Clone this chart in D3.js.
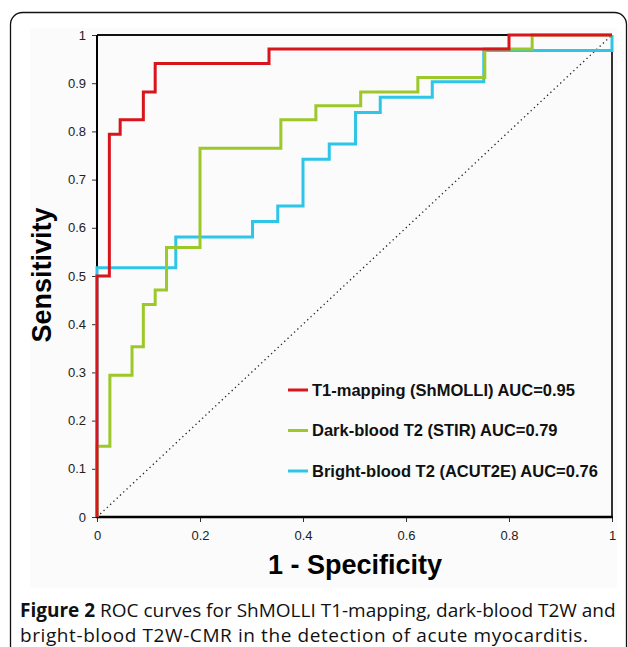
<!DOCTYPE html>
<html>
<head>
<meta charset="utf-8">
<script src="https://cdn.jsdelivr.net/npm/d3@7"></script>
<style>
  body { margin: 0; background: #fff; }
  svg { display: block; }
</style>
</head>
<body>
<script>
// ROC curve points: [1 - specificity, sensitivity]
var t1Mapping = [[0,0],[0,0.5],[0.024,0.5],[0.024,0.794],[0.045,0.794],[0.045,0.824],[0.09,0.824],[0.09,0.882],
  [0.113,0.882],[0.113,0.941],[0.334,0.941],[0.334,0.971],[0.80,0.971],[0.80,1],[1,1]];
var darkBlood = [[0,0],[0,0.147],[0.025,0.147],[0.025,0.294],[0.068,0.294],[0.068,0.353],[0.09,0.353],[0.09,0.441],
  [0.113,0.441],[0.113,0.471],[0.135,0.471],[0.135,0.559],[0.20,0.559],[0.20,0.765],[0.357,0.765],[0.357,0.824],
  [0.425,0.824],[0.425,0.853],[0.512,0.853],[0.512,0.882],[0.623,0.882],[0.623,0.912],[0.753,0.912],[0.753,0.971],
  [0.845,0.971],[0.845,1],[1,1]];
var brightBlood = [[0,0],[0,0.517],[0.153,0.517],[0.153,0.581],[0.302,0.581],[0.302,0.613],[0.351,0.613],[0.351,0.645],
  [0.40,0.645],[0.40,0.742],[0.451,0.742],[0.451,0.774],[0.502,0.774],[0.502,0.839],[0.55,0.839],[0.55,0.871],
  [0.651,0.871],[0.651,0.903],[0.751,0.903],[0.751,0.968],[1,0.968],[1,1]];

var seriesNames = ["T1-mapping (ShMOLLI) AUC=0.95", "Dark-blood T2 (STIR) AUC=0.79", "Bright-blood T2 (ACUT2E) AUC=0.76"];
var seriesColors = ["#d8151d", "#9dc82a", "#2ec6e8"];
var xTicks = [0, 0.2, 0.4, 0.6, 0.8, 1];
var yTicks = [0, 0.1, 0.2, 0.3, 0.4, 0.5, 0.6, 0.7, 0.8, 0.9, 1];

var width = 628, height = 647;
var svg = d3.select("body").append("svg")
    .attr("width", width)
    .attr("height", height);

// outer frame (open at the bottom, cropped)
svg.append("rect")
    .attr("x", 10.5).attr("y", 12.5)
    .attr("width", 616).attr("height", 700)
    .attr("rx", 12).attr("ry", 12)
    .style("fill", "#fff")
    .style("stroke", "#111")
    .style("stroke-width", 1.3);

// light panel behind the chart
svg.append("rect")
    .attr("x", 30).attr("y", 28)
    .attr("width", 587).attr("height", 560)
    .style("fill", "#fafbfa");

var x = d3.scaleLinear().domain([0, 1]).range([97, 612]);
var y = d3.scaleLinear().domain([0, 1]).range([517, 35]);

var fmt = function(d) { return d === 0 || d === 1 ? d3.format("d")(d) : d3.format(".1f")(d); };

// y axis
var yAxis = svg.append("g")
    .attr("transform", "translate(97,0)")
    .call(d3.axisLeft(y).tickValues(yTicks).tickFormat(fmt).tickSize(5).tickPadding(6));
// x axis
var xAxis = svg.append("g")
    .attr("transform", "translate(0,517)")
    .call(d3.axisBottom(x).tickValues(xTicks).tickFormat(fmt).tickSize(5).tickPadding(9));

[yAxis, xAxis].forEach(function(a) {
  a.select(".domain").remove();
  a.selectAll("line").style("stroke", "#333").style("stroke-width", 1);
  a.selectAll("text")
    .style("font-family", "'Liberation Sans', Arial, sans-serif")
    .style("font-size", "13px")
    .style("fill", "#222");
});

// plot frame
svg.append("line").attr("x1", 97).attr("x2", 612).attr("y1", 35).attr("y2", 35)
    .style("stroke", "#111").style("stroke-width", 2);
svg.append("line").attr("x1", 612).attr("x2", 612).attr("y1", 35).attr("y2", 517)
    .style("stroke", "#333").style("stroke-width", 2);
svg.append("line").attr("x1", 97).attr("x2", 97).attr("y1", 35).attr("y2", 518)
    .style("stroke", "#000").style("stroke-width", 2);
svg.append("line").attr("x1", 96).attr("x2", 613).attr("y1", 517).attr("y2", 517)
    .style("stroke", "#000").style("stroke-width", 2.5);

// chance diagonal
svg.append("line")
    .attr("x1", x(0)).attr("y1", y(0)).attr("x2", x(1)).attr("y2", y(1))
    .style("stroke", "#222")
    .style("stroke-width", 1.3)
    .style("stroke-dasharray", "1.3,3.2");

var line = d3.line()
    .x(function(d) { return x(d[0]); })
    .y(function(d) { return y(d[1]); });

var curves = [brightBlood, darkBlood, t1Mapping];
var curveColors = [seriesColors[2], seriesColors[1], seriesColors[0]];

svg.selectAll(".roc")
    .data(curves)
    .enter()
    .append("path")
    .attr("class", "roc")
    .attr("d", line)
    .style("fill", "none")
    .style("stroke", function(d, i) { return curveColors[i]; })
    .style("stroke-width", 3);

// legend
var legend = svg.selectAll(".legend")
    .data(seriesNames)
    .enter()
    .append("g")
    .attr("class", "legend")
    .attr("transform", function(d, i) { return "translate(288," + (390 + i * 40.5) + ")"; });

legend.append("line")
    .attr("x1", 0).attr("x2", 20)
    .style("stroke", function(d, i) { return seriesColors[i]; })
    .style("stroke-width", 3);

legend.append("text")
    .attr("x", 24)
    .attr("dy", "0.36em")
    .style("font-family", "'Liberation Sans', Arial, sans-serif")
    .style("font-weight", "bold")
    .style("font-size", "16.5px")
    .style("fill", "#111")
    .text(function(d) { return d; });

// axis titles
svg.append("text")
    .attr("transform", "translate(51,275) rotate(-90)")
    .attr("text-anchor", "middle")
    .style("font-family", "'Liberation Sans', Arial, sans-serif")
    .style("font-weight", "bold")
    .style("font-size", "27px")
    .style("fill", "#000")
    .text("Sensitivity");

svg.append("text")
    .attr("x", 355).attr("y", 574)
    .attr("text-anchor", "middle")
    .style("font-family", "'Liberation Sans', Arial, sans-serif")
    .style("font-weight", "bold")
    .style("font-size", "27px")
    .style("fill", "#000")
    .text("1 - Specificity");

// caption
var captionStyle = function(t) {
  t.style("font-family", "'Open Sans', 'Noto Sans', sans-serif")
   .style("font-size", "19px")
   .style("fill", "#111");
};
var cap1 = svg.append("text").attr("x", 20).attr("y", 617).call(captionStyle);
cap1.append("tspan").style("font-weight", "bold").text("Figure 2");
cap1.append("tspan").text(" ROC curves for ShMOLLI T1-mapping, dark-blood T2W and");
svg.append("text").attr("x", 20).attr("y", 642)
    .attr("textLength", 568).attr("lengthAdjust", "spacing")
    .call(captionStyle)
    .text("bright-blood T2W-CMR in the detection of acute myocarditis.");
</script>
</body>
</html>
